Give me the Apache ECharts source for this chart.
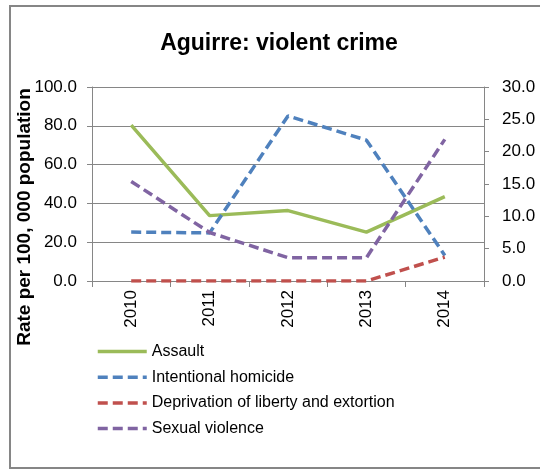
<!DOCTYPE html>
<html>
<head>
<meta charset="utf-8">
<script src="https://cdn.jsdelivr.net/npm/echarts@6/dist/echarts.min.js"></script>
<style>
html,body{margin:0;padding:0;background:#fff;}
#chart{width:540px;height:470px;}
</style>
</head>
<body>
<div id="chart"></div>
<script>
const categories = ['2010', '2011', '2012', '2013', '2014'];
const assault = [80.3, 33.7, 36.3, 25.2, 43.5];            // left axis
const homicide = [25.2, 24.8, 85.1, 72.6, 13.2];           // left axis
const deprivation = [0.0, 0.0, 0.0, 0.0, 3.7];             // right axis
const sexualViolence = [15.4, 7.5, 3.6, 3.6, 21.9];        // right axis
const leftTicks = [0, 100, 20];
const rightTicks = [0, 30, 5];

const FONT = '"Liberation Sans", Arial, sans-serif';
const chart = echarts.init(document.getElementById('chart'), null, {renderer: 'canvas'});
const axisGray = '#868686';

function dashed(name, data, color, yIdx, solid) {
  return {
    name: name, type: 'line', data: data, yAxisIndex: yIdx,
    symbol: 'none', smooth: false,
    lineStyle: {color: color, width: 3.5, type: solid ? 'solid' : [10, 5], cap: 'butt'},
    itemStyle: {color: color}
  };
}

chart.setOption({
  animation: false,
  backgroundColor: '#fff',
  graphic: [
    {type: 'rect', shape: {x: 10, y: 6, width: 540, height: 462},
     style: {fill: 'none', stroke: '#868686', lineWidth: 2}, silent: true},
    {type: 'text', x: 25, y: 217, rotation: Math.PI / 2,
     style: {text: 'Rate per 100, 000 population', font: 'bold 19px ' + FONT,
             fill: '#000', textAlign: 'center', textVerticalAlign: 'middle'}}
  ],
  title: {
    text: 'Aguirre: violent crime', left: 274, top: 27, textAlign: 'center',
    textStyle: {fontFamily: FONT, fontWeight: 'bold', fontSize: 23, color: '#000'}
  },
  legend: {
    orient: 'vertical', left: 96, top: 343.5, padding: 0,
    itemWidth: 49, itemHeight: 14, itemGap: 9.7,
    itemStyle: {opacity: 0},
    lineStyle: {width: 3.5},
    textStyle: {fontFamily: FONT, fontSize: 16, lineHeight: 16, color: '#000'},
    data: ['Assault', 'Intentional homicide', 'Deprivation of liberty and extortion', 'Sexual violence']
  },
  grid: {left: 92, right: 56, top: 87, bottom: 189, containLabel: false},
  xAxis: {
    type: 'category', data: categories, boundaryGap: true,
    axisLine: {lineStyle: {color: axisGray, width: 1}},
    axisTick: {show: true, length: 6, alignWithLabel: false, interval: 0, lineStyle: {color: axisGray}},
    axisLabel: {rotate: 90, margin: 9, fontFamily: FONT, fontSize: 17, color: '#000', interval: 0}
  },
  yAxis: [
    {type: 'value', min: leftTicks[0], max: leftTicks[1], interval: leftTicks[2],
     axisLine: {show: true, lineStyle: {color: axisGray}},
     axisTick: {show: true, length: 5, lineStyle: {color: axisGray}},
     splitLine: {show: true, lineStyle: {color: axisGray, width: 1}},
     axisLabel: {formatter: v => v.toFixed(1), fontFamily: FONT, fontSize: 17, color: '#000', margin: 15}},
    {type: 'value', min: rightTicks[0], max: rightTicks[1], interval: rightTicks[2], position: 'right',
     axisLine: {show: true, lineStyle: {color: axisGray}},
     axisTick: {show: true, length: 5, lineStyle: {color: axisGray}},
     splitLine: {show: false},
     axisLabel: {formatter: v => v.toFixed(1), fontFamily: FONT, fontSize: 17, color: '#000', margin: 18}}
  ],
  series: [
    dashed('Assault', assault, '#9BBB59', 0, true),
    dashed('Intentional homicide', homicide, '#4F81BD', 0, false),
    dashed('Deprivation of liberty and extortion', deprivation, '#C0504D', 1, false),
    dashed('Sexual violence', sexualViolence, '#8064A2', 1, false)
  ]
});
</script>
</body>
</html>
